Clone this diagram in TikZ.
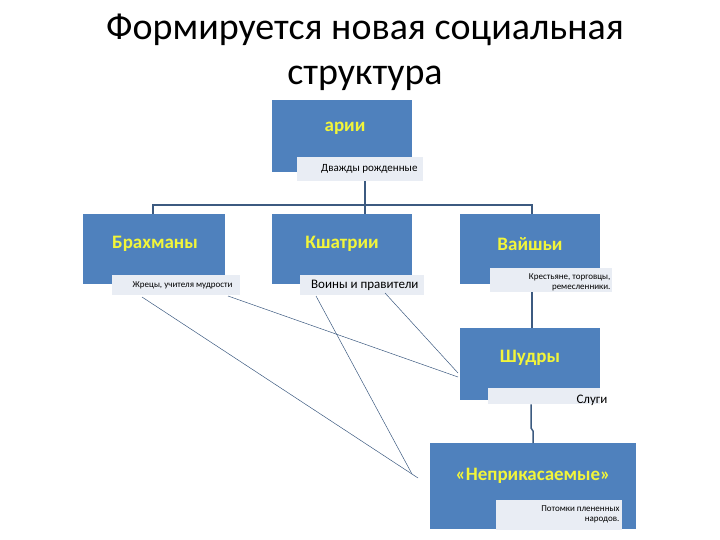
\documentclass[tikz,border=0pt]{standalone}
\usepackage{fontspec}
\setmainfont{Carlito}
\definecolor{bl}{HTML}{4F81BD}
\definecolor{lt}{HTML}{E9EDF4}
\definecolor{yl}{HTML}{F2F53A}
\definecolor{ln}{HTML}{3C5A80}
\begin{document}
\begin{tikzpicture}[x=1pt,y=-1pt,
  box/.style={fill=bl,draw=none,anchor=north west,inner sep=0},
  lbl/.style={text=yl,font=\bfseries\fontsize{19}{21}\selectfont},
  sub/.style={fill=lt,draw=none,anchor=north west,inner sep=0},
  thin/.style={draw=ln,line width=0.5pt},
  conn/.style={draw=ln,line width=1.5pt}]
\useasboundingbox (0,0) rectangle (720,540);
\node[font=\fontsize{38}{45}\selectfont,align=center] (title) at (365,52) {Формируется новая социальная\\структура};
% арии
\node[box,minimum width=140,minimum height=72] (a) at (272,100) {};
\node[lbl] (at) at (345,128) {арии};
\node[sub,minimum width=126,minimum height=24] (as) at (297,157) {};
\node[font=\fontsize{11}{12}\selectfont,anchor=east] (ast) at (421,169) {Дважды рожденные};
% Брахманы
\node[box,minimum width=142,minimum height=70] (b) at (83,214) {};
\node[lbl] (bt) at (155,244) {Брахманы};
\node[sub,minimum width=128,minimum height=20] (bs) at (112,275) {};
\node[font=\fontsize{9}{10}\selectfont,anchor=east] (bst) at (236,285) {Жрецы, учителя мудрости};
% Кшатрии
\node[box,minimum width=140,minimum height=70] (k) at (272,214) {};
\node[lbl] (kt) at (342,244) {Кшатрии};
\node[sub,minimum width=124,minimum height=20] (ks) at (300,275) {};
\node[font=\fontsize{13}{14}\selectfont,anchor=east] (kst) at (422,285) {Воины и правители};
% Вайшьи
\node[box,minimum width=140,minimum height=70] (v) at (460,214) {};
\node[lbl] (vt) at (530,244) {Вайшьи};
\node[sub,minimum width=122,minimum height=24] (vs) at (490,268) {};
\node[font=\fontsize{9}{10}\selectfont,align=right,anchor=east] (vst) at (614,282) {Крестьяне, торговцы,\\ремесленники.};
% Шудры
\node[box,minimum width=140,minimum height=72] (s) at (460,328) {};
\node[lbl] (st) at (530,358) {Шудры};
\node[sub,minimum width=112,minimum height=16] (ss) at (488,388) {};
\node[font=\fontsize{13}{14}\selectfont,anchor=east] (sst) at (611,400) {Слуги};
% Неприкасаемые
\node[box,minimum width=206,minimum height=86] (n) at (430,443) {};
\node[lbl] (nt) at (533,476) {«Неприкасаемые»};
\node[sub,minimum width=126,minimum height=30] (ns) at (496,500) {};
\node[font=\fontsize{9}{10}\selectfont,align=right,anchor=east] (nst) at (623,514) {Потомки плененных\\народов.};
% connectors
\coordinate (j) at (365,205);
\coordinate (jl) at (153,205);
\coordinate (jr) at (532,205);
\coordinate (k1) at (531,428);
\coordinate (k2) at (533,431);
\draw[conn] (as.south) coordinate (ab) (j |- ab) -- (j);
\draw[conn] (jl |- b.north) -- (jl) -- (jr) -- (jr |- v.north);
\draw[conn] (j) -- (j |- k.north);
\draw[conn] (jr |- vs.south) -- (jr |- s.north);
\draw[conn] (k1 |- ss.south) -- (k1) -- (k2) -- (k2 |- n.north);
\coordinate (p1) at (142,297); \coordinate (q1) at (418,478);
\coordinate (p2) at (228,296); \coordinate (q2) at (458,377);
\coordinate (p3) at (316,296); \coordinate (q3) at (412,474);
\coordinate (p4) at (385,293); \coordinate (q4) at (458,373);
\draw[thin] (p1) -- (q1);
\draw[thin] (p2) -- (q2);
\draw[thin] (p3) -- (q3);
\draw[thin] (p4) -- (q4);
\end{tikzpicture}
\end{document}
